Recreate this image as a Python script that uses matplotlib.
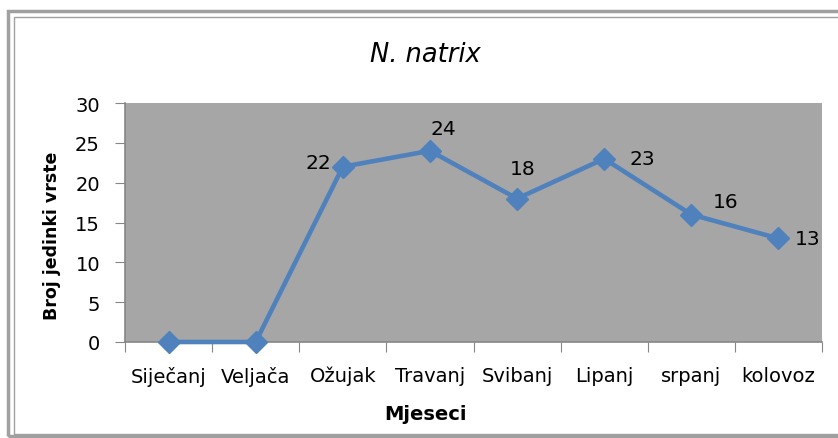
import matplotlib

matplotlib.use("Agg")
import matplotlib.pyplot as plt
from matplotlib.patches import Rectangle

months = ["Siječanj", "Veljača", "Ožujak", "Travanj", "Svibanj", "Lipanj", "srpanj", "kolovoz"]
counts = [0, 0, 22, 24, 18, 23, 16, 13]
y_ticks = [0, 5, 10, 15, 20, 25, 30]

# label offsets in pixels (dx, dy), only non-zero points are labelled
label_offsets = [None, None, (-24, 4), (13, 22), (6, 30), (38, 0), (34, 13), (29, 0)]

LINE = "#4f81bd"
PLOT_BG = "#a6a6a6"
AXIS = "#868686"

plt.rcParams["font.family"] = ["DejaVu Sans"]

W, H = 838, 439
fig = plt.figure(figsize=(W / 100, H / 100), dpi=100)

# double border around the chart
fig.patches.append(Rectangle((8 / W, 2 / H), 835 / W, 425 / H, transform=fig.transFigure,
                             fill=False, ec="#a0a0a0", lw=2.5, zorder=0))
fig.patches.append(Rectangle((14 / W, 4 / H), 830 / W, 417 / H, transform=fig.transFigure,
                             fill=False, ec="#a0a0a0", lw=1.0, zorder=0))

ax = fig.add_axes([125 / W, 1 - 343 / H, 697 / W, 239 / H])
ax.set_facecolor(PLOT_BG)

x = list(range(len(months)))
ax.plot(x, counts, color=LINE, lw=3.3, marker="D", ms=11, mec=LINE, mfc=LINE, zorder=3,
        clip_on=False)

for xi, val, off in zip(x, counts, label_offsets):
    if off is None:
        continue
    ax.annotate(str(val), (xi, val), xytext=off, textcoords="offset pixels",
                ha="center", va="center", fontsize=14.5, color="black")

ax.set_xlim(-0.5, len(months) - 0.5)
ax.set_ylim(0, 30)
ax.set_yticks(y_ticks)
ax.set_xticks([i + 0.5 for i in range(-1, len(months))], minor=False)
ax.set_xticklabels([])
ax.set_xticks(x, minor=True)
ax.set_xticklabels(months, minor=True)
ax.tick_params(axis="x", which="minor", length=0, pad=17, labelsize=14)
ax.tick_params(axis="x", which="major", length=7, color=AXIS, direction="out")
ax.tick_params(axis="y", length=7, color=AXIS, pad=11, labelsize=14)

for side in ["top", "right"]:
    ax.spines[side].set_visible(False)
for side in ["left", "bottom"]:
    ax.spines[side].set_color(AXIS)
    ax.spines[side].set_linewidth(1.2)

fig.text(52 / W, 1 - 236 / H, "Broj jedinki vrste", rotation=90, ha="center", va="center",
         fontsize=12.5, fontweight="bold")
fig.text(425 / W, 1 - 415 / H, "Mjeseci", ha="center", va="center", fontsize=14,
         fontweight="bold")
fig.text(425 / W, 1 - 55 / H, "N. natrix", ha="center", va="center", fontsize=18.5,
         style="italic")

fig.savefig("out.png", dpi=100)
